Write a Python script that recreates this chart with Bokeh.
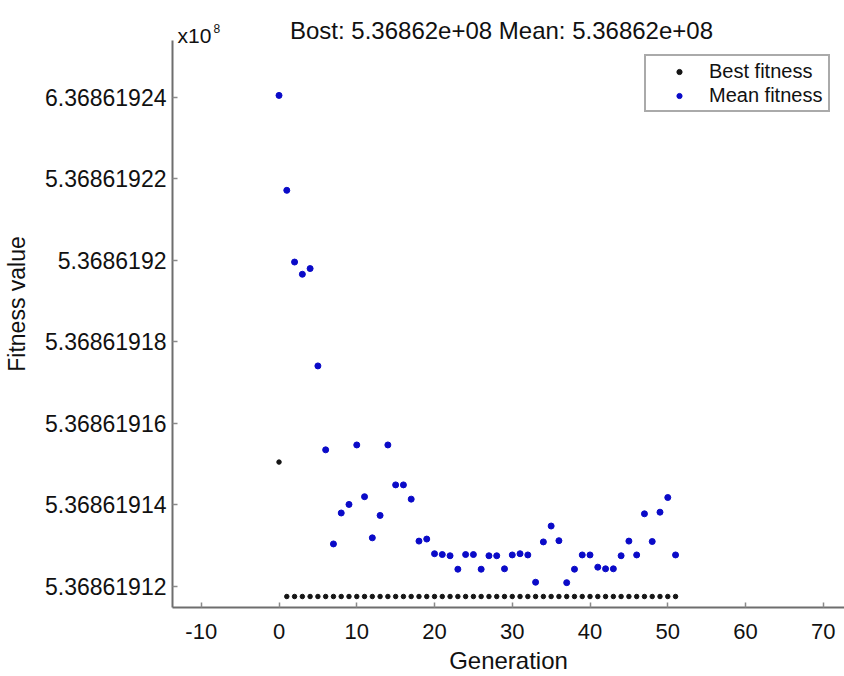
from bokeh.plotting import figure
from bokeh.models import Range1d, FixedTicker, Label, Legend, LegendItem
from bokeh.embed import file_html
from bokeh.resources import INLINE

# ---- data (fitness values in units of x10^8) ----
generations = list(range(52))

mean_fitness = [
    5.3686192405, 5.3686192172, 5.3686191996, 5.3686191966, 5.3686191980,
    5.3686191741, 5.3686191535, 5.3686191304, 5.3686191380, 5.3686191401,
    5.3686191547, 5.3686191420, 5.3686191319, 5.3686191374, 5.3686191547,
    5.3686191449, 5.3686191449, 5.3686191414, 5.3686191311, 5.3686191316,
    5.3686191280, 5.3686191278, 5.3686191275, 5.3686191242, 5.3686191278,
    5.3686191278, 5.3686191242, 5.3686191275, 5.3686191275, 5.3686191243,
    5.3686191277, 5.3686191280, 5.3686191277, 5.3686191210, 5.3686191309,
    5.3686191348, 5.3686191312, 5.3686191209, 5.3686191242, 5.3686191277,
    5.3686191277, 5.3686191247, 5.3686191243, 5.3686191243, 5.3686191275,
    5.3686191311, 5.3686191277, 5.3686191378, 5.3686191310, 5.3686191382,
    5.3686191418, 5.3686191277,
]

best_fitness = [
    5.3686191505, 5.3686191175, 5.3686191175, 5.3686191175, 5.3686191175,
    5.3686191175, 5.3686191175, 5.3686191175, 5.3686191175, 5.3686191175,
    5.3686191175, 5.3686191175, 5.3686191175, 5.3686191175, 5.3686191175,
    5.3686191175, 5.3686191175, 5.3686191175, 5.3686191175, 5.3686191175,
    5.3686191175, 5.3686191175, 5.3686191175, 5.3686191175, 5.3686191175,
    5.3686191175, 5.3686191175, 5.3686191175, 5.3686191175, 5.3686191175,
    5.3686191175, 5.3686191175, 5.3686191175, 5.3686191175, 5.3686191175,
    5.3686191175, 5.3686191175, 5.3686191175, 5.3686191175, 5.3686191175,
    5.3686191175, 5.3686191175, 5.3686191175, 5.3686191175, 5.3686191175,
    5.3686191175, 5.3686191175, 5.3686191175, 5.3686191175, 5.3686191175,
    5.3686191175, 5.3686191175,
]

x_ticks = [-10, 0, 10, 20, 30, 40, 50, 60, 70]
x_tick_labels = ["-10", "0", "10", "20", "30", "40", "50", "60", "70"]
y_ticks = [5.36861912, 5.36861914, 5.36861916, 5.36861918, 5.3686192, 5.36861922, 5.36861924]
y_tick_labels = ["5.36861912", "5.36861914", "5.36861916", "5.36861918",
                 "5.3686192", "5.36861922", "6.36861924"]

title_text = "Bost: 5.36862e+08 Mean: 5.36862e+08"
legend_labels = ["Best fitness", "Mean fitness"]

FONT = "Liberation Sans"

Y_BOTTOM = 5.3686191148
Y_AXIS_TOP = 5.3686192540

p = figure(width=844, height=676, output_backend="svg", toolbar_location=None,
           x_range=Range1d(-13.70, 72.73),
           y_range=Range1d(Y_BOTTOM, 5.3686192638),
           min_border_left=172, min_border_right=0,
           min_border_top=0, min_border_bottom=69)
p.outline_line_color = None
p.grid.visible = False
p.background_fill_color = "white"
p.border_fill_color = "white"

r_best = p.scatter(generations, best_fitness, size=4.5, color="#151515")
r_mean = p.scatter(generations, mean_fitness, size=6, color="#0a0ac8")

for ax in (p.xaxis[0], p.yaxis[0]):
    ax.axis_line_color = "#6e6e6e"
    ax.axis_line_width = 2
    ax.major_tick_line_color = "#8a8a8a"
    ax.major_tick_line_width = 1.5
    ax.major_tick_in = 5
    ax.major_tick_out = 0
    ax.minor_tick_line_color = None
    ax.major_label_text_font = FONT
    ax.major_label_text_color = "#111111"
    ax.axis_label_text_font = FONT
    ax.axis_label_text_font_style = "normal"
    ax.axis_label_text_color = "#111111"

p.xaxis.ticker = FixedTicker(ticks=x_ticks)
p.xaxis.major_label_overrides = dict(zip(x_ticks, x_tick_labels))
p.xaxis.major_label_text_font_size = "22px"
p.xaxis.axis_label = "Generation"
p.xaxis.axis_label_text_font_size = "24px"
p.xaxis.major_label_standoff = 16
p.xaxis.axis_label_standoff = 5

p.yaxis.ticker = FixedTicker(ticks=y_ticks)
p.yaxis.major_label_overrides = dict(zip(y_ticks, y_tick_labels))
p.yaxis.major_label_text_font_size = "23px"
p.yaxis.bounds = (Y_BOTTOM, Y_AXIS_TOP)
p.yaxis.axis_label = "Fitness value"
p.yaxis.axis_label_text_font_size = "23px"
p.yaxis.major_label_standoff = 6
p.yaxis.axis_label_standoff = 12

legend = Legend(items=[LegendItem(label=legend_labels[0], renderers=[r_best]),
                       LegendItem(label=legend_labels[1], renderers=[r_mean])],
                location=(472, 495))
legend.label_text_font = FONT
legend.label_text_font_size = "20px"
legend.label_text_color = "#111111"
legend.padding = 3
legend.spacing = 0
legend.margin = 0
legend.label_height = 24
legend.glyph_height = 13
legend.glyph_width = 60
legend.label_standoff = 0
legend.label_width = 116
legend.border_line_color = "#555555"
legend.border_line_width = 2
legend.background_fill_color = "white"
legend.background_fill_alpha = 1
p.add_layout(legend)

title = Label(x=329, y=577.5, x_units="screen", y_units="screen", text=title_text,
              text_align="center", text_baseline="alphabetic",
              text_font=FONT, text_font_size="24px", text_color="#111111")
p.add_layout(title)

exp_base = Label(x=5, y=572, x_units="screen", y_units="screen", text="x10",
                 text_align="left", text_baseline="alphabetic",
                 text_font=FONT, text_font_size="21px", text_color="#111111")
exp_pow = Label(x=41, y=579, x_units="screen", y_units="screen", text="8",
                text_align="left", text_baseline="alphabetic",
                text_font=FONT, text_font_size="12px", text_color="#111111")
p.add_layout(exp_base)
p.add_layout(exp_pow)

open("out.html", "w").write(file_html(p, INLINE))
